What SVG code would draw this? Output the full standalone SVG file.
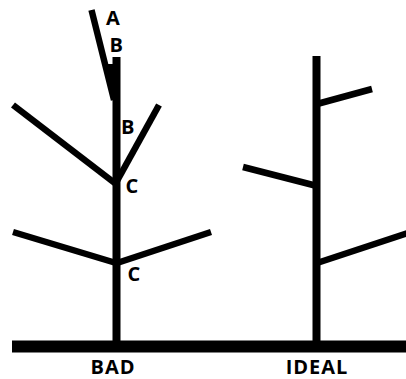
<svg xmlns="http://www.w3.org/2000/svg" width="406" height="379" viewBox="0 0 406 379">
  <style>
    .trunk { stroke: #000; stroke-width: 8; fill: none; stroke-linecap: butt; }
    .branch { stroke: #000; stroke-width: 6.5; fill: none; stroke-linecap: butt; }
    .ground { fill: #000; }
    .lbl { font-family: "Open Sans", "Liberation Sans", sans-serif; font-weight: bold; font-size: 20px; fill: #000; }
    .cap { font-family: "Open Sans", "Liberation Sans", sans-serif; font-weight: bold; font-size: 20px; fill: #000; text-anchor: middle; letter-spacing: 1px; }
  </style>
  <rect width="406" height="379" fill="#fff"/>
  <rect id="ground" class="ground" x="12" y="340.5" width="394" height="12"/>

  <g id="bad-tree">
    <line class="trunk" x1="116.5" y1="57" x2="116.5" y2="341"/>
    <line class="branch" x1="91.5" y1="10" x2="114" y2="100" stroke-width="7"/>
    <polygon points="107,64 113,64 113,88" fill="#000"/>
    <line class="branch" x1="13" y1="105" x2="116" y2="184"/>
    <line class="branch" x1="117" y1="181" x2="159" y2="105"/>
    <line class="branch" x1="13" y1="232" x2="116" y2="263"/>
    <line class="branch" x1="117" y1="263" x2="211" y2="232"/>
  </g>

  <g id="ideal-tree">
    <line class="trunk" x1="316.5" y1="56" x2="316.5" y2="341"/>
    <line class="branch" x1="317" y1="104" x2="372" y2="89"/>
    <line class="branch" x1="243" y1="167" x2="317" y2="186"/>
    <line class="branch" x1="317" y1="263" x2="408" y2="233"/>
  </g>

  <g id="labels">
    <text class="lbl" x="106" y="25">A</text>
    <text class="lbl" x="109.5" y="52">B</text>
    <text class="lbl" x="121" y="134">B</text>
    <text class="lbl" x="125.5" y="193">C</text>
    <text class="lbl" x="127.5" y="281">C</text>
    <text class="cap" x="113" y="373.5">BAD</text>
    <text class="cap" x="317" y="373.5">IDEAL</text>
  </g>
</svg>
